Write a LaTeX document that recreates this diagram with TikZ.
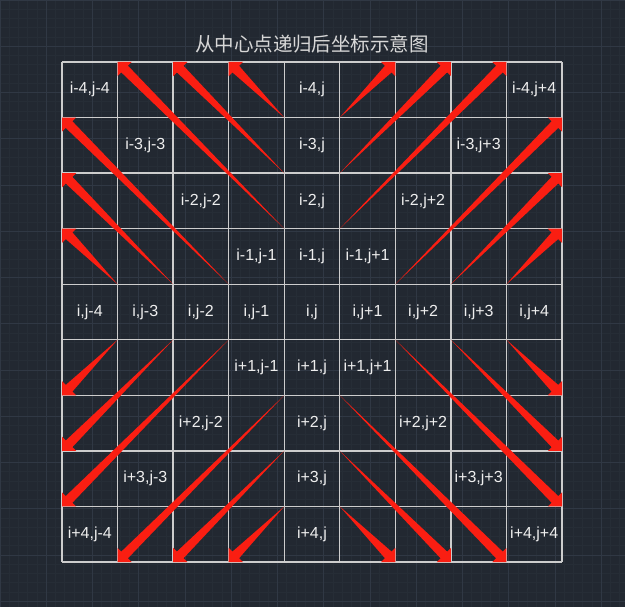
\documentclass[tikz,border=0pt]{standalone}
\usepackage{fontspec}
\setmainfont{Liberation Sans}
\newfontfamily\cjk{Noto Sans CJK SC}
\usetikzlibrary{calc}
\definecolor{bgc}{RGB}{34,40,49}
\definecolor{minorc}{RGB}{38,45,54}
\definecolor{majorc}{RGB}{48,56,68}
\definecolor{gridc}{RGB}{205,205,205}
\definecolor{arrowred}{RGB}{250,30,18}
\definecolor{txtc}{RGB}{238,238,238}
\definecolor{titlec}{RGB}{215,215,215}
\newcommand\redarrow[2]{%
  \path ($(#2)!10pt!(#1)$) coordinate (ab);
  \fill[arrowred] (#1) -- ($(ab)!4.7pt!90:(#2)$) -- ($(ab)!10pt!90:(#2)$) -- (#2)
     -- ($(ab)!10pt!-90:(#2)$) -- ($(ab)!4.7pt!-90:(#2)$) -- cycle;}
\newcommand\lab[3]{\node[lbl] (l-#1-#2) at ($(p-#1-#2)!0.5!(p-\the\numexpr#1+1\relax-\the\numexpr#2+1\relax)$) {#3};}
\begin{document}
\begin{tikzpicture}[x=1pt,y=-1pt,
  lbl/.style={text=txtc,font=\fontsize{16}{18}\selectfont,inner sep=0pt},
  ttl/.style={text=titlec,font=\cjk\fontsize{19.5}{22}\selectfont,inner sep=0pt},
  tline/.style={gridc,line width=1.3pt}]
\useasboundingbox (0,0) rectangle (625,607);
\fill[bgc] (0,0) rectangle (625,607);
% background CAD grid
\foreach \k in {0,...,68} {\draw[minorc,line width=0.6pt] (\k*9.25,0) -- (\k*9.25,607);}
\foreach \k in {0,...,66} {\draw[minorc,line width=0.6pt] (0,\k*9.25) -- (625,\k*9.25);}
\foreach \k in {0,...,13} {\draw[majorc,line width=0.8pt] (\k*46.25,0) -- (\k*46.25,607);
  \draw[majorc,line width=0.8pt] (0,\k*46.25) -- (625,\k*46.25);}
% corner coordinates
\foreach \c in {0,...,9} {\foreach \r in {0,...,9} {\coordinate (p-\c-\r) at (62+\c*55.5556,62+\r*55.5556);}}
% table grid
\foreach \k in {0,...,9} {\draw[tline] (p-\k-0) -- (p-\k-9); \draw[tline] (p-0-\k) -- (p-9-\k);}
% arrows upper-left
\redarrow{p-4-3}{p-1-0}\redarrow{p-4-2}{p-2-0}\redarrow{p-4-1}{p-3-0}
\redarrow{p-3-4}{p-0-1}\redarrow{p-2-4}{p-0-2}\redarrow{p-1-4}{p-0-3}
% upper-right
\redarrow{p-5-3}{p-8-0}\redarrow{p-5-2}{p-7-0}\redarrow{p-5-1}{p-6-0}
\redarrow{p-6-4}{p-9-1}\redarrow{p-7-4}{p-9-2}\redarrow{p-8-4}{p-9-3}
% lower-left
\redarrow{p-4-6}{p-1-9}\redarrow{p-4-7}{p-2-9}\redarrow{p-4-8}{p-3-9}
\redarrow{p-3-5}{p-0-8}\redarrow{p-2-5}{p-0-7}\redarrow{p-1-5}{p-0-6}
% lower-right
\redarrow{p-5-6}{p-8-9}\redarrow{p-5-7}{p-7-9}\redarrow{p-5-8}{p-6-9}
\redarrow{p-6-5}{p-9-8}\redarrow{p-7-5}{p-9-7}\redarrow{p-8-5}{p-9-6}
% labels
\lab{0}{0}{i-4,j-4}\lab{4}{0}{i-4,j}\lab{8}{0}{i-4,j+4}
\lab{1}{1}{i-3,j-3}\lab{4}{1}{i-3,j}\lab{7}{1}{i-3,j+3}
\lab{2}{2}{i-2,j-2}\lab{4}{2}{i-2,j}\lab{6}{2}{i-2,j+2}
\lab{3}{3}{i-1,j-1}\lab{4}{3}{i-1,j}\lab{5}{3}{i-1,j+1}
\lab{0}{4}{i,j-4}\lab{1}{4}{i,j-3}\lab{2}{4}{i,j-2}\lab{3}{4}{i,j-1}\lab{4}{4}{i,j}
\lab{5}{4}{i,j+1}\lab{6}{4}{i,j+2}\lab{7}{4}{i,j+3}\lab{8}{4}{i,j+4}
\lab{3}{5}{i+1,j-1}\lab{4}{5}{i+1,j}\lab{5}{5}{i+1,j+1}
\lab{2}{6}{i+2,j-2}\lab{4}{6}{i+2,j}\lab{6}{6}{i+2,j+2}
\lab{1}{7}{i+3,j-3}\lab{4}{7}{i+3,j}\lab{7}{7}{i+3,j+3}
\lab{0}{8}{i+4,j-4}\lab{4}{8}{i+4,j}\lab{8}{8}{i+4,j+4}
% title
\node[ttl] (title) at (312,44) {从中心点递归后坐标示意图};
\end{tikzpicture}
\end{document}
